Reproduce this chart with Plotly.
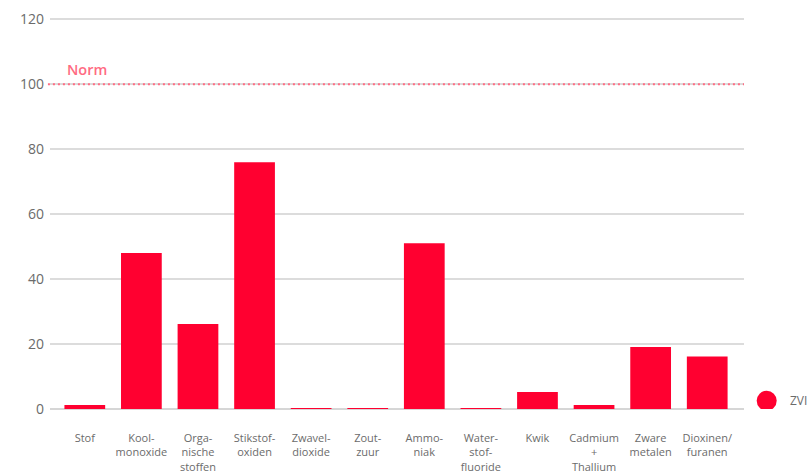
import plotly.graph_objects as go

categories = [
    "Stof", "Kool-<br>monoxide", "Orga-<br>nische<br>stoffen", "Stikstof-<br>oxiden",
    "Zwavel-<br>dioxide", "Zout-<br>zuur", "Ammo-<br>niak", "Water-<br>stof-<br>fluoride",
    "Kwik", "Cadmium<br>+<br>Thallium", "Zware<br>metalen", "Dioxinen/<br>furanen",
]
zvi_values = [1.2, 48, 26.2, 76, 0.3, 0.3, 51, 0.3, 5.2, 1.2, 19.1, 16.2]
norm_value = 100
y_ticks = [0, 20, 40, 60, 80, 100, 120]
series_name = "ZVI"

RED = "#ff0030"
NORM_RED = "#ff6b82"
GRAY = "#6b6b6b"
FONT = "Open Sans"

x_idx = list(range(len(categories)))

fig = go.Figure()
fig.add_trace(go.Bar(
    x=x_idx, y=zvi_values, name=series_name,
    marker=dict(color=RED, line=dict(width=0)),
    width=0.72, showlegend=False,
))

fig.update_layout(
    width=811, height=476,
    margin=dict(l=50, r=67, t=15.75, b=66.7, autoexpand=False),
    plot_bgcolor="white", paper_bgcolor="white",
    font=dict(family=FONT, color=GRAY),
    xaxis=dict(
        range=[-0.615, 11.65],
        tickmode="array", tickvals=x_idx, ticktext=categories,
        tickfont=dict(size=11, color=GRAY, family=FONT),
        showgrid=False, zeroline=False, showline=False, ticks="",
        ticklabelstandoff=21, automargin=False,
    ),
    yaxis=dict(
        range=[0, 121], tickvals=y_ticks,
        tickfont=dict(size=14, color=GRAY, family=FONT),
        showgrid=True, gridcolor="#dcdcdc", gridwidth=1.5,
        zeroline=True, zerolinecolor="#d6d6d6", zerolinewidth=1.5,
        showline=False, ticks="", ticklabelstandoff=5, automargin=False,
    ),
)

# Norm line
fig.add_shape(type="line", xref="paper", yref="y", x0=-0.003, x1=1, y0=norm_value, y1=norm_value,
              line=dict(color=NORM_RED, width=2, dash="2px,3px"), layer="above")
fig.add_annotation(xref="paper", yref="y", x=0.0216, y=norm_value, yshift=3,
                   xanchor="left", yanchor="bottom", text="Norm", showarrow=False,
                   font=dict(size=14.5, color=NORM_RED, family=FONT, weight=600))

# Legend (drawn manually to match the large circle marker)
leg_y = 2.55
fig.add_shape(type="circle", xref="paper", yref="y", xsizemode="pixel", ysizemode="pixel",
              xanchor=1.0327, yanchor=leg_y, x0=-10, x1=10, y0=-10, y1=10,
              fillcolor=RED, line=dict(width=0))
fig.add_annotation(xref="paper", yref="y", x=1.0634, y=leg_y, xanchor="left", yanchor="middle",
                   text=series_name, showarrow=False, font=dict(size=12, color=GRAY, family=FONT))

fig.write_html(
    "out.html",
    config={"displayModeBar": False},
    post_script="document.documentElement.style.margin='0';document.body.style.margin='0';"
                "document.body.style.overflow='hidden';",
)
